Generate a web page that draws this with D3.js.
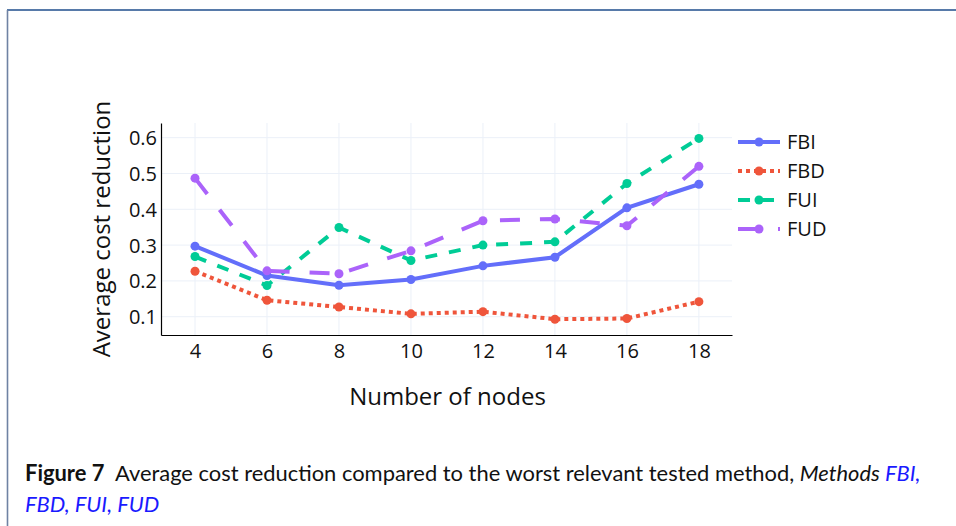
<!DOCTYPE html>
<html>
<head>
<meta charset="utf-8">
<script src="https://cdn.jsdelivr.net/npm/d3@7"></script>
<style>
  html, body { margin: 0; padding: 0; background: #fff; }
  svg { display: block; }
</style>
</head>
<body>
<svg id="chart" width="956" height="526"></svg>
<script>
// ---- data ----
const nodes = [4, 6, 8, 10, 12, 14, 16, 18];
const FBI = [0.297, 0.215, 0.188, 0.204, 0.242, 0.266, 0.404, 0.470];
const FBD = [0.227, 0.146, 0.127, 0.108, 0.114, 0.093, 0.095, 0.142];
const FUI = [0.268, 0.187, 0.349, 0.257, 0.300, 0.309, 0.472, 0.598];
const FUD = [0.487, 0.228, 0.220, 0.284, 0.368, 0.373, 0.354, 0.520];
const seriesNames = ["FBI", "FBD", "FUI", "FUD"];
const xTicks = [4, 6, 8, 10, 12, 14, 16, 18];
const yTicks = [0.1, 0.2, 0.3, 0.4, 0.5, 0.6];
const xTitle = "Number of nodes";
const yTitle = "Average cost reduction";

const seriesValues = { FBI, FBD, FUI, FUD };
const colors = { FBI: "#636efa", FBD: "#ef553b", FUI: "#00cc96", FUD: "#ab63fa" };
const dashes = { FBI: null, FBD: "4,4", FUI: "12,12", FUD: "20,20" };

const svg = d3.select("#chart");
const font = "'Open Sans', sans-serif";

// frame
svg.append("line").attr("x1", 7).attr("x2", 956).attr("y1", 10).attr("y2", 10)
  .attr("stroke", "#1f4e8c").attr("stroke-width", 1.6);
svg.append("line").attr("x1", 7.5).attr("x2", 7.5).attr("y1", 10).attr("y2", 526)
  .attr("stroke", "#6f82a3").attr("stroke-width", 1.6);

// scales
const L = 161, R = 732, T = 123, B = 335;
const x = d3.scaleLinear().domain([3.055, 18.92]).range([L, R]);
const y = d3.scaleLinear().domain([0.0489, 0.641]).range([B, T]);

// grid
const g = svg.append("g");
g.append("g").selectAll("line").data(xTicks).join("line")
  .attr("x1", d => x(d)).attr("x2", d => x(d)).attr("y1", T).attr("y2", B)
  .attr("stroke", "#ebf0f8").attr("stroke-width", 1);
g.append("g").selectAll("line").data(yTicks).join("line")
  .attr("x1", L).attr("x2", R).attr("y1", d => y(d)).attr("y2", d => y(d))
  .attr("stroke", "#ebf0f8").attr("stroke-width", 1);

// axes
const xAxis = d3.axisBottom(x).tickValues(xTicks).tickSize(0).tickPadding(9).tickFormat(d3.format("d"));
const yAxis = d3.axisLeft(y).tickValues(yTicks).tickSize(0).tickPadding(4).tickFormat(d3.format(".1f"));
const gx = svg.append("g").attr("transform", `translate(0,${B})`).call(xAxis);
const gy = svg.append("g").attr("transform", `translate(${L},0)`).call(yAxis);
[gx, gy].forEach(a => {
  a.select(".domain").attr("stroke", "#000").attr("stroke-width", 1.2);
  a.selectAll("text").attr("font-family", font).attr("font-size", 20).attr("fill", "#111");
});
gx.selectAll("text").attr("dy", "0.71em");
gy.selectAll("text").attr("dy", "0.35em");

// titles
svg.append("text").attr("x", (L + R) / 2 + 1).attr("y", 397).attr("dy", "0.35em")
  .attr("text-anchor", "middle").attr("font-family", font).attr("font-size", 24)
  .attr("fill", "#111").text(xTitle);
svg.append("text").attr("transform", `translate(102,229) rotate(-90)`)
  .attr("dy", "0.35em").attr("text-anchor", "middle").attr("font-family", font)
  .attr("font-size", 24).attr("fill", "#111").text(yTitle);

// lines
const line = d3.line().x(d => x(d[0])).y(d => y(d[1]));
seriesNames.forEach(name => {
  const pts = nodes.map((n, i) => [n, seriesValues[name][i]]);
  const sg = svg.append("g");
  sg.append("path").datum(pts).attr("d", line).attr("fill", "none")
    .attr("stroke", colors[name]).attr("stroke-width", 4)
    .attr("stroke-dasharray", dashes[name]);
  sg.selectAll("circle").data(pts).join("circle")
    .attr("cx", d => x(d[0])).attr("cy", d => y(d[1])).attr("r", 4.5)
    .attr("fill", colors[name]);
});

// legend
const lg = svg.append("g");
seriesNames.forEach((name, i) => {
  const yy = 142 + i * 29;
  lg.append("line").attr("x1", 738).attr("x2", 780).attr("y1", yy).attr("y2", yy)
    .attr("stroke", colors[name]).attr("stroke-width", 4).attr("stroke-dasharray", dashes[name]);
  lg.append("circle").attr("cx", 759).attr("cy", yy).attr("r", 4.5).attr("fill", colors[name]);
  lg.append("text").attr("x", 787).attr("y", yy).attr("dy", "0.35em")
    .attr("font-family", font).attr("font-size", 20).attr("fill", "#111").text(name);
});

// caption
const capFont = "Lato, 'Liberation Sans', sans-serif";
const cap1 = svg.append("text").attr("x", 25).attr("y", 481)
  .attr("font-family", capFont).attr("font-size", 21).attr("fill", "#111");
cap1.append("tspan").attr("font-weight", "bold").text("Figure 7");
cap1.append("tspan").text("\u00a0 Average cost reduction compared to the worst relevant tested method, ");
cap1.append("tspan").attr("font-style", "italic").text("Methods ");
cap1.append("tspan").attr("font-style", "italic").attr("fill", "#1a1aff").text("FBI,");
const cap2 = svg.append("text").attr("x", 25).attr("y", 512)
  .attr("font-family", capFont).attr("font-size", 21).attr("font-style", "italic")
  .attr("fill", "#1a1aff").text("FBD, FUI, FUD");
// fit caption line width to target
const w = cap1.node().getComputedTextLength();
const s = 21 * 896 / w;
cap1.attr("font-size", s);
cap2.attr("font-size", s);
</script>
</body>
</html>
